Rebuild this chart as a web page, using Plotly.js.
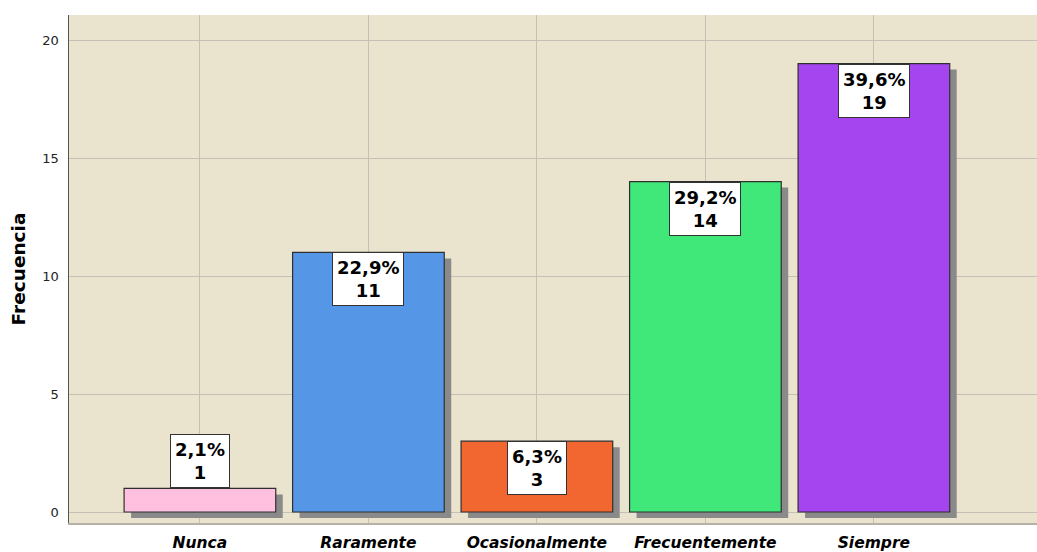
<!DOCTYPE html>
<html>
<head>
<meta charset="utf-8">
<script src="https://cdn.plot.ly/plotly-3.0.1.min.js"></script>
<style>
  html, body { margin: 0; padding: 0; background: #ffffff; }
  #chart { width: 1037px; height: 552px; }
</style>
</head>
<body>
<div id="chart"></div>
<script>
// Frequency of each response category
const categories = ['Nunca', 'Raramente', 'Ocasionalmente', 'Frecuentemente', 'Siempre'];
const counts = [1, 11, 3, 14, 19];
const percents = ['2,1%', '22,9%', '6,3%', '29,2%', '39,6%'];
const barColors = ['#FFC0E0', '#5596E6', '#F2672F', '#40E87A', '#A545F0'];
const yTicks = [0, 5, 10, 15, 20];

// Drop shadow: same bars, nudged right and down
const shadowDx = 0.0415;
const shadowDy = 0.254;
const barWidth = 0.9;

const shadow = {
  type: 'bar',
  x: categories,
  y: counts,
  base: counts.map(() => -shadowDy),
  width: barWidth,
  offset: -barWidth / 2 + shadowDx,
  marker: { color: '#8a8a8a', line: { width: 0 } },
  hoverinfo: 'skip',
  showlegend: false
};

const bars = {
  type: 'bar',
  x: categories,
  y: counts,
  width: barWidth,
  marker: { color: barColors, line: { color: '#2f2f2f', width: 1.2 } },
  showlegend: false
};

// Value boxes: inside the top of the bar, or above it when the bar is too short
const labelFont = { family: 'DejaVu Sans, Verdana, sans-serif', size: 18, color: '#000000' };
const annotations = categories.map((c, i) => {
  const inside = counts[i] >= 3;
  return {
    x: c,
    y: counts[i],
    xref: 'x',
    yref: 'y',
    text: '<b>' + percents[i] + '<br>' + counts[i] + '</b>',
    showarrow: false,
    yanchor: inside ? 'top' : 'bottom',
    xanchor: 'center',
    bgcolor: '#ffffff',
    bordercolor: '#333333',
    borderwidth: 1,
    borderpad: 4,
    font: labelFont,
    align: 'center'
  };
});

const layout = {
  width: 1037,
  height: 552,
  margin: { l: 69, r: 0, t: 15, b: 29 },
  paper_bgcolor: '#ffffff',
  plot_bgcolor: '#EAE3CE',
  barmode: 'overlay',
  showlegend: false,
  xaxis: {
    type: 'category',
    range: [-0.777, 4.968],
    showgrid: true,
    gridcolor: '#c4c0b8',
    gridwidth: 1,
    showline: true,
    linecolor: '#b5b1a8',
    linewidth: 1.5,
    ticks: '',
    ticklabelstandoff: 5,
    tickfont: { family: 'DejaVu Sans, Verdana, sans-serif', size: 15.5, color: '#000000', weight: 'bold', style: 'italic' },
    fixedrange: true
  },
  yaxis: {
    range: [-0.466, 21.06],
    tickvals: yTicks,
    ticktext: yTicks.map(String),
    showgrid: true,
    gridcolor: '#c4c0b8',
    gridwidth: 1,
    zeroline: false,
    showline: true,
    linecolor: '#555555',
    linewidth: 1.5,
    ticks: '',
    ticklabelstandoff: 6,
    tickfont: { family: 'DejaVu Sans, Verdana, sans-serif', size: 13, color: '#222222' },
    title: {
      text: '<b>Frecuencia</b>',
      font: { family: 'DejaVu Sans, Verdana, sans-serif', size: 18.5, color: '#000000' },
      standoff: 12
    },
    fixedrange: true
  },
  annotations: annotations
};

Plotly.newPlot('chart', [shadow, bars], layout, { displayModeBar: false, staticPlot: true });
</script>
</body>
</html>
